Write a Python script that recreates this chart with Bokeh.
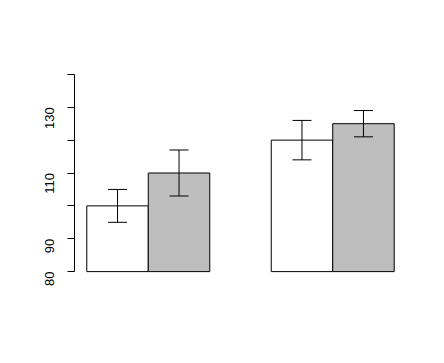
import math
from bokeh.plotting import figure
from bokeh.models import Range1d, FixedTicker, Whisker, ColumnDataSource, TeeHead
from bokeh.embed import file_html
from bokeh.resources import INLINE

# Data
groups = ["A", "B"]
series_names = ["white", "gray"]
white_vals = [100, 120]
gray_vals = [110, 125]
white_low = [95, 114]
white_high = [105, 126]
gray_low = [103, 121]
gray_high = [117, 129]
y_ticks = [80, 90, 100, 110, 120, 130, 140]
y_tick_labels = ["80", "90", "", "110", "", "130", ""]
y_base = 80

# R barplot(beside=TRUE) layout: bar width 1, one unit of space before each group
xs_white, xs_gray = [], []
pos = 0.0
for g in groups:
    pos += 1.0
    xs_white.append(pos + 0.5)
    xs_gray.append(pos + 1.5)
    pos += 2.0

p = figure(width=428, height=347, output_backend="svg", toolbar_location=None,
           x_range=Range1d(0.8, 6.2), y_range=Range1d(77.6, 142.4),
           min_border_left=74, min_border_right=22, min_border_top=66, min_border_bottom=68)
p.outline_line_color = None
p.xgrid.visible = False
p.ygrid.visible = False
p.xaxis.visible = False
p.background_fill_color = "white"
p.border_fill_color = "white"

src_w = ColumnDataSource(dict(x=xs_white, top=white_vals, low=white_low, high=white_high))
src_g = ColumnDataSource(dict(x=xs_gray, top=gray_vals, low=gray_low, high=gray_high))

p.vbar(x="x", top="top", bottom=y_base, width=1.0, source=src_w,
       fill_color="white", line_color="black", line_width=1)
p.vbar(x="x", top="top", bottom=y_base, width=1.0, source=src_g,
       fill_color="#BEBEBE", line_color="black", line_width=1)

for src in (src_w, src_g):
    w = Whisker(base="x", lower="low", upper="high", source=src, level="overlay",
                line_color="black", line_width=1,
                upper_head=TeeHead(size=19, line_color="black", line_width=1),
                lower_head=TeeHead(size=19, line_color="black", line_width=1))
    p.add_layout(w)

ax = p.yaxis[0]
ax.bounds = (80, 140)
ax.ticker = FixedTicker(ticks=y_ticks)
ax.major_label_overrides = {t: l for t, l in zip(y_ticks, y_tick_labels)}
ax.minor_tick_line_color = None
ax.major_tick_out = 7
ax.major_tick_in = 0
ax.axis_line_color = "black"
ax.major_tick_line_color = "black"
ax.major_label_orientation = math.pi / 2
ax.major_label_text_font = "Liberation Sans"
ax.major_label_text_font_size = "13px"
ax.major_label_text_color = "black"
ax.major_label_standoff = 18

open("out.html", "w").write(file_html(p, INLINE))
